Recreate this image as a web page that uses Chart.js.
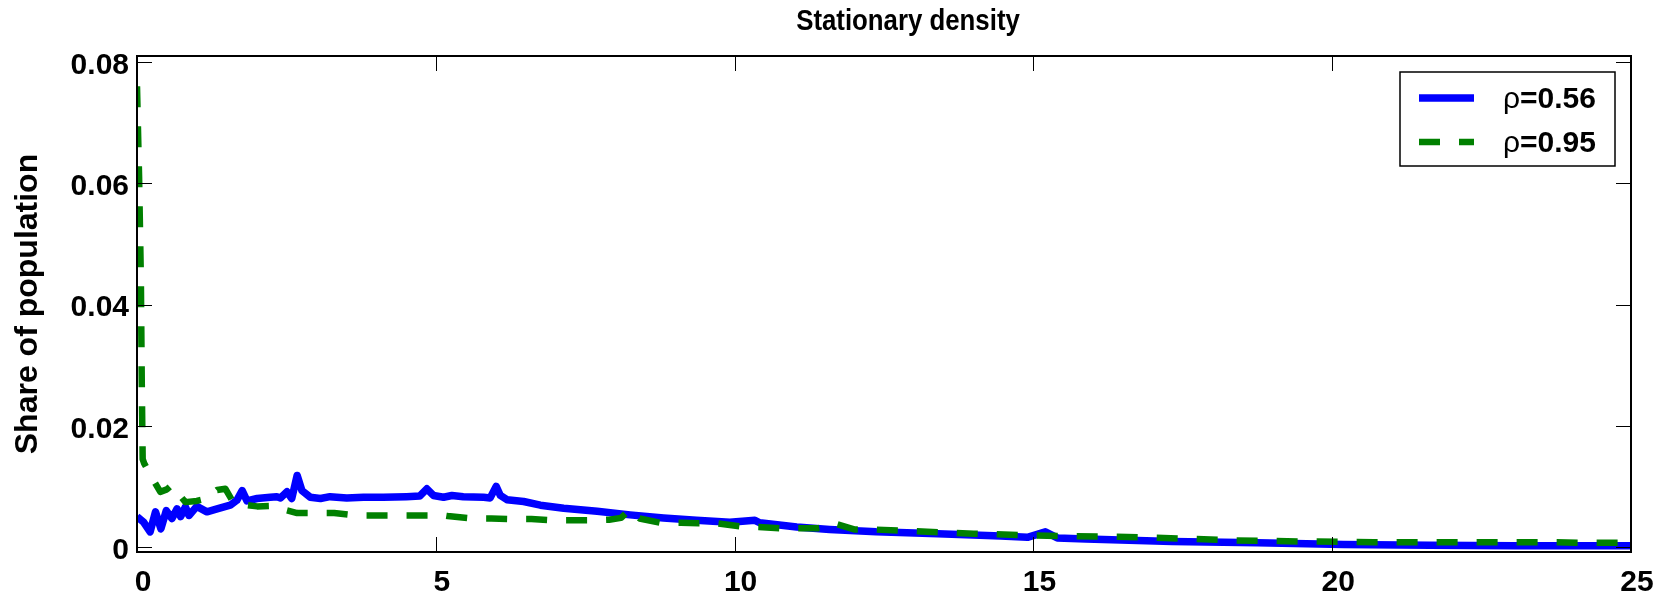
<!DOCTYPE html>
<html><head><meta charset="utf-8">
<script src="https://cdn.jsdelivr.net/npm/chart.js@4/dist/chart.umd.min.js"></script>
<style>html,body{margin:0;padding:0;background:#fff;}</style>
</head><body>
<canvas id="c" width="1673" height="607" style="display:block;width:1673px;height:607px"></canvas>
<script>
const titleText = 'Stationary density';
const yAxisTitle = 'Share of population';
const xTickValues = [0, 5, 10, 15, 20, 25];
const xTickLabels = ['0', '5', '10', '15', '20', '25'];
const yTickValues = [0, 0.02, 0.04, 0.06, 0.08];
const yTickLabels = ['0', '0.02', '0.04', '0.06', '0.08'];
const seriesNames = ['ρ=0.56', 'ρ=0.95'];

// rho = 0.56 (solid blue)
const xRho056 = [0, 0.11, 0.22, 0.31, 0.40, 0.49, 0.585, 0.67, 0.73, 0.81, 0.87, 1.0, 1.17, 1.34, 1.56, 1.67, 1.76, 1.84, 2.01, 2.23, 2.34, 2.40, 2.51, 2.59, 2.68, 2.76, 2.90, 3.07, 3.23, 3.51, 3.79, 4.12, 4.51, 4.73, 4.85, 4.96, 5.13, 5.27, 5.46, 5.80, 5.91, 6.01, 6.08, 6.19, 6.47, 6.75, 7.14, 7.70, 8.25, 8.81, 9.36, 9.92, 10.34, 10.42, 11.04, 11.59, 12.37, 13.4, 14.45, 14.9, 15.2, 15.4, 15.88, 17.32, 18.75, 20.19, 21.63, 23.06, 25];
const yRho056 = [0.0050, 0.0041, 0.0025, 0.0058, 0.0030, 0.0060, 0.0047, 0.0063, 0.0050, 0.0066, 0.0052, 0.0067, 0.0058, 0.0063, 0.0069, 0.0077, 0.0093, 0.0076, 0.0080, 0.0082, 0.0083, 0.0081, 0.0091, 0.0080, 0.0118, 0.0093, 0.0082, 0.0080, 0.0083, 0.0081, 0.0082, 0.0082, 0.0083, 0.0084, 0.0096, 0.0085, 0.0082, 0.0085, 0.0083, 0.0082, 0.0081, 0.0100, 0.0085, 0.0078, 0.0075, 0.0069, 0.0064, 0.0059, 0.0053, 0.0048, 0.0044, 0.0041, 0.0044, 0.0040, 0.0033, 0.0029, 0.0025, 0.0022, 0.0018, 0.0016, 0.0025, 0.0015, 0.0013, 0.0009, 0.0007, 0.0004, 0.0003, 0.0002, 0.0002];

// rho = 0.95 (dashed green)
const xRho095 = [0, 0.035, 0.065, 0.08, 0.095, 0.12, 0.24, 0.39, 0.5, 0.58, 0.69, 0.81, 1.0, 1.17, 1.34, 1.48, 1.62, 2.01, 2.29, 2.40, 2.68, 3.0, 3.3, 3.67, 3.98, 4.3, 4.6, 4.92, 5.0, 5.2, 5.6, 5.93, 6.3, 6.6, 6.94, 7.25, 7.6, 7.9, 8.1, 8.25, 8.41, 8.75, 9.1, 9.4, 9.7, 10.1, 10.4, 10.76, 11.1, 11.4, 11.6, 11.7, 12.0, 12.3, 13.0, 14.0, 15.0, 15.5, 16.9, 18.3, 19.6, 20.7, 22.3, 23.5, 24.2, 24.8, 25];
const yRho095 = [0.076, 0.061, 0.044, 0.027, 0.0145, 0.0138, 0.0116, 0.0091, 0.0095, 0.0102, 0.0088, 0.0074, 0.0076, 0.0080, 0.0094, 0.0096, 0.0072, 0.0067, 0.0068, 0.0063, 0.0056, 0.0056, 0.0056, 0.0052, 0.0052, 0.0052, 0.0052, 0.0052, 0.0054, 0.0051, 0.0047, 0.0047, 0.0046, 0.0046, 0.0044, 0.0044, 0.0044, 0.0045, 0.0048, 0.0062, 0.0047, 0.0040, 0.0040, 0.0039, 0.0039, 0.0034, 0.0033, 0.0031, 0.0031, 0.0031, 0.0034, 0.0038, 0.0029, 0.0029, 0.0026, 0.0022, 0.0019, 0.0018, 0.0016, 0.0011, 0.0009, 0.0008, 0.0008, 0.0008, 0.0007, 0.0007, 0.0028];

const FONT = "'Liberation Sans', Arial, Helvetica, sans-serif";
const TITLE_CENTER_X = 908;
const TITLE_SQUEEZE = 0.86;
const toPoints = (xs, ys) => xs.map((v, i) => ({x: v, y: ys[i]}));

const framePlugin = {
  id: 'frame',
  afterLayout(chart) {
    const tb = chart.titleBlock;
    if (tb) {
      const half = (tb.right - tb.left) / 2;
      tb.left = TITLE_CENTER_X - half;
      tb.right = TITLE_CENTER_X + half;
      if (!tb._squeezed) {
        const origDraw = tb.draw;
        tb.draw = function (...args) {
          const ctx = this.ctx;
          ctx.save();
          ctx.translate(TITLE_CENTER_X, 0);
          ctx.scale(TITLE_SQUEEZE, 1);
          ctx.translate(-TITLE_CENTER_X, 0);
          origDraw.apply(this, args);
          ctx.restore();
        };
        tb._squeezed = true;
      }
    }
  },
  afterDatasetsDraw(chart) {
    const {ctx, chartArea: a} = chart;
    const xs = chart.scales.x, ys = chart.scales.y;
    ctx.save();
    ctx.strokeStyle = '#000';
    ctx.lineWidth = 1;
    ctx.beginPath();
    xs.ticks.forEach(t => {
      const p = Math.round(xs.getPixelForValue(t.value)) + 0.5;
      ctx.moveTo(p, a.bottom); ctx.lineTo(p, a.bottom - 15);
      ctx.moveTo(p, a.top); ctx.lineTo(p, a.top + 15);
    });
    ys.ticks.forEach(t => {
      const p = Math.round(ys.getPixelForValue(t.value)) + 0.5;
      ctx.moveTo(a.left, p); ctx.lineTo(a.left + 15, p);
      ctx.moveTo(a.right, p); ctx.lineTo(a.right - 15, p);
    });
    ctx.stroke();
    ctx.lineWidth = 2;
    ctx.strokeRect(a.left, a.top, a.right - a.left, a.bottom - a.top);

    // legend box (top right, inside the axes)
    const bx = 1400, by = 72, bw = 215, bh = 94;
    ctx.fillStyle = '#fff';
    ctx.fillRect(bx, by, bw, bh);
    ctx.lineWidth = 1.5;
    ctx.strokeStyle = '#000';
    ctx.strokeRect(bx, by, bw, bh);
    chart.data.datasets.slice().sort((p, q) => p.legendIndex - q.legendIndex).forEach((ds, i) => {
      const ly = by + 26 + i * 44;
      ctx.save();
      ctx.strokeStyle = ds.borderColor;
      ctx.lineWidth = ds.borderWidth;
      ctx.setLineDash(ds.borderDash || []);
      ctx.beginPath();
      ctx.moveTo(bx + 19, ly); ctx.lineTo(bx + 74, ly);
      ctx.stroke();
      ctx.restore();
      ctx.fillStyle = '#000';
      ctx.textBaseline = 'middle';
      ctx.textAlign = 'left';
      const lbl = ds.label;
      ctx.font = "30px " + FONT;
      const first = lbl.slice(0, 1);
      ctx.fillText(first, bx + 103, ly + 2);
      const w = ctx.measureText(first).width;
      ctx.font = "bold 30px " + FONT;
      ctx.fillText(lbl.slice(1), bx + 103 + w, ly + 2);
    });
    ctx.restore();
  }
};

new Chart(document.getElementById('c'), {
  type: 'line',
  data: {
    datasets: [
      {
        label: seriesNames[0], legendIndex: 0,
        data: toPoints(xRho056, yRho056),
        borderColor: '#0000ff', borderWidth: 7.5,
        pointRadius: 0, tension: 0, fill: false,
        borderJoinStyle: 'round', order: 2
      },
      {
        label: seriesNames[1], legendIndex: 1,
        data: toPoints(xRho095, yRho095),
        borderColor: '#008000', borderWidth: 6.5,
        borderDash: [21, 19],
        pointRadius: 0, tension: 0, fill: false,
        borderJoinStyle: 'round', order: 1
      }
    ]
  },
  options: {
    responsive: false,
    animation: false,
    devicePixelRatio: 1,
    layout: {padding: {left: 0, right: 42, top: 0, bottom: 0}},
    plugins: {
      legend: {display: false},
      tooltip: {enabled: false},
      title: {
        display: true, text: titleText, color: '#000',
        font: {family: FONT, size: 30, weight: 'bold', lineHeight: 1.2},
        padding: {top: 4, bottom: 16}
      }
    },
    scales: {
      x: {
        type: 'linear', min: 0, max: 25,
        afterBuildTicks: s => { s.ticks = xTickValues.map(v => ({value: v})); },
        afterFit: s => { s.height = 55; },
        grid: {display: false, drawTicks: false},
        border: {display: false},
        ticks: {
          color: '#000', padding: 13, labelOffset: 6, maxRotation: 0,
          font: {family: FONT, size: 30, weight: 'bold', lineHeight: 1.2},
          callback: (v) => { const i = xTickValues.indexOf(v); return i >= 0 ? xTickLabels[i] : ''; }
        }
      },
      y: {
        type: 'linear', min: -0.000825, max: 0.08099,
        afterBuildTicks: s => { s.ticks = yTickValues.map(v => ({value: v})); },
        afterFit: s => { s.width = 137; },
        grid: {display: false, drawTicks: false},
        border: {display: false},
        title: {
          display: true, text: yAxisTitle, color: '#000',
          font: {family: FONT, size: 32, weight: 'bold', lineHeight: 1.2},
          padding: {top: 9, bottom: 0}
        },
        ticks: {
          color: '#000', padding: 8, labelOffset: 3.5,
          font: {family: FONT, size: 30, weight: 'bold', lineHeight: 1.2},
          callback: (v) => { const i = yTickValues.indexOf(v); return i >= 0 ? yTickLabels[i] : ''; }
        }
      }
    }
  },
  plugins: [framePlugin]
});
</script>
</body></html>
